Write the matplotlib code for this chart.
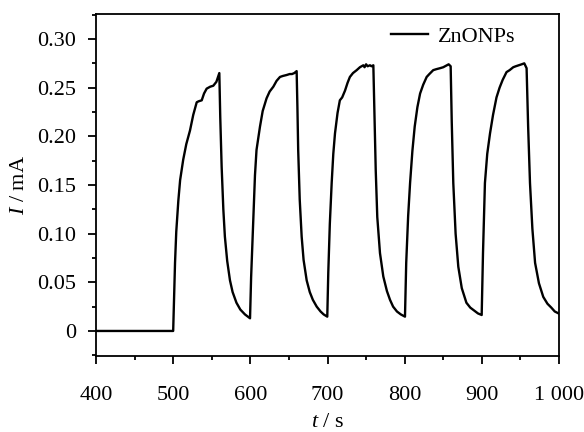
import matplotlib
matplotlib.use("Agg")
import matplotlib.pyplot as plt
from matplotlib.ticker import MultipleLocator, FixedLocator
import numpy as np

plt.rcParams["font.family"] = ["Liberation Serif", "DejaVu Serif"]
plt.rcParams["mathtext.fontset"] = "custom"
plt.rcParams["mathtext.rm"] = "Liberation Serif"
plt.rcParams["mathtext.it"] = "Liberation Serif:italic"

# Photocurrent response, one list per on/off cycle
t_dark = [400, 500]
i_dark = [0.0, 0.0]

t_cycle1 = [500, 501, 502.4, 504, 506.7, 509, 513, 517, 521.8, 526, 530.5, 533, 537,
            540, 543.4, 548, 552, 556, 559.8,
            561, 562.8, 565, 567, 570, 573.6, 577, 582, 587, 593, 599.6]
i_cycle1 = [0.0, 0.030, 0.070, 0.102, 0.134, 0.155, 0.176, 0.192, 0.206, 0.222, 0.235, 0.236, 0.237,
            0.244, 0.249, 0.251, 0.252, 0.256, 0.265,
            0.220, 0.169, 0.125, 0.097, 0.072, 0.052, 0.040, 0.029, 0.022, 0.017, 0.013]

t_cycle2 = [599.6, 601, 603.9, 606, 608, 612.5, 616, 621, 625, 629.8, 634, 638.4,
            642, 647, 651, 654, 657, 660,
            661, 662, 664, 666.5, 669, 673, 677, 681, 686, 691, 695, 699.7]
i_cycle2 = [0.013, 0.055, 0.117, 0.160, 0.186, 0.210, 0.226, 0.239, 0.246, 0.251, 0.257, 0.261,
            0.262, 0.263, 0.264, 0.264, 0.265, 0.267,
            0.230, 0.186, 0.135, 0.097, 0.073, 0.052, 0.040, 0.032, 0.025, 0.020, 0.017, 0.0147]

t_cycle3 = [699.7, 701, 703, 705.4, 707.5, 709.7, 713, 716, 719, 722.7, 726, 729, 733,
            737.8, 742, 746.4, 748, 750, 752, 755, 757, 759.4,
            761, 762.5, 764.5, 768, 772.3, 777, 781, 785, 790, 795, 800.4]
i_cycle3 = [0.0147, 0.060, 0.110, 0.152, 0.182, 0.203, 0.224, 0.237, 0.240, 0.247, 0.255, 0.261, 0.265,
            0.268, 0.271, 0.273, 0.271, 0.274, 0.272, 0.273, 0.272, 0.273,
            0.215, 0.165, 0.117, 0.080, 0.056, 0.041, 0.032, 0.025, 0.020, 0.017, 0.0147]

t_cycle4 = [800.4, 802, 804.5, 807, 810, 813, 816.5, 820, 824, 828.5, 832, 837, 841,
            845.8, 850, 854.5, 857, 859.6,
            861, 863, 866, 869.5, 874, 880, 885, 890, 895, 899.8]
i_cycle4 = [0.0147, 0.070, 0.118, 0.152, 0.185, 0.210, 0.230, 0.244, 0.253, 0.261, 0.264, 0.268, 0.269,
            0.270, 0.271, 0.273, 0.274, 0.272,
            0.215, 0.152, 0.100, 0.066, 0.044, 0.029, 0.024, 0.021, 0.018, 0.0164]

t_cycle5 = [899.8, 901.5, 904, 907, 910.6, 914.5, 919, 923, 927, 932, 936,
            940.7, 944, 948, 951.6, 955, 958,
            960, 962.4, 965.5, 969, 974, 979.6, 985, 990, 994.5, 999.5]
i_cycle5 = [0.0164, 0.080, 0.152, 0.182, 0.203, 0.222, 0.240, 0.250, 0.258, 0.266, 0.268,
            0.271, 0.272, 0.273, 0.274, 0.275, 0.270,
            0.210, 0.152, 0.105, 0.070, 0.049, 0.035, 0.028, 0.024, 0.020, 0.018]

t_all = np.concatenate([t_dark, t_cycle1, t_cycle2, t_cycle3, t_cycle4, t_cycle5])
i_all = np.concatenate([i_dark, i_cycle1, i_cycle2, i_cycle3, i_cycle4, i_cycle5])

x_ticks = [400, 500, 600, 700, 800, 900, 1000]
x_tick_labels = ["400", "500", "600", "700", "800", "900", "1 000"]
y_ticks = [0, 0.05, 0.10, 0.15, 0.20, 0.25, 0.30]
y_tick_labels = ["0", "0.05", "0.10", "0.15", "0.20", "0.25", "0.30"]

fig = plt.figure(figsize=(5.84, 4.32), dpi=100)
ax = fig.add_axes([0.1644, 0.176, 0.7928, 0.7916])

ax.plot(t_all, i_all, color="black", lw=1.7, label="ZnONPs")

ax.set_xlim(400, 1000)
ax.set_ylim(-0.0257, 0.3257)
ax.xaxis.set_major_locator(FixedLocator(x_ticks))
ax.set_xticklabels(x_tick_labels)
ax.xaxis.set_minor_locator(MultipleLocator(50))
ax.yaxis.set_major_locator(FixedLocator(y_ticks))
ax.set_yticklabels(y_tick_labels)
ax.yaxis.set_minor_locator(MultipleLocator(0.025))

ax.tick_params(which="major", direction="out", length=5.5, width=1.3, labelsize=16)
ax.tick_params(axis="x", which="major", pad=16)
ax.tick_params(axis="y", which="major", pad=9)
ax.tick_params(which="minor", direction="out", length=3, width=1.3)
for s in ax.spines.values():
    s.set_linewidth(1.3)

ax.set_xlabel(r"$\mathit{t}$ / s", fontsize=16, labelpad=6)
ax.set_ylabel(r"$\mathit{I}$ / mA", fontsize=16, labelpad=6)

ax.legend(loc="upper right", bbox_to_anchor=(0.95, 1.023), frameon=False,
          fontsize=16, handlelength=1.7, handletextpad=0.45)

fig.savefig("out.png", dpi=100)
